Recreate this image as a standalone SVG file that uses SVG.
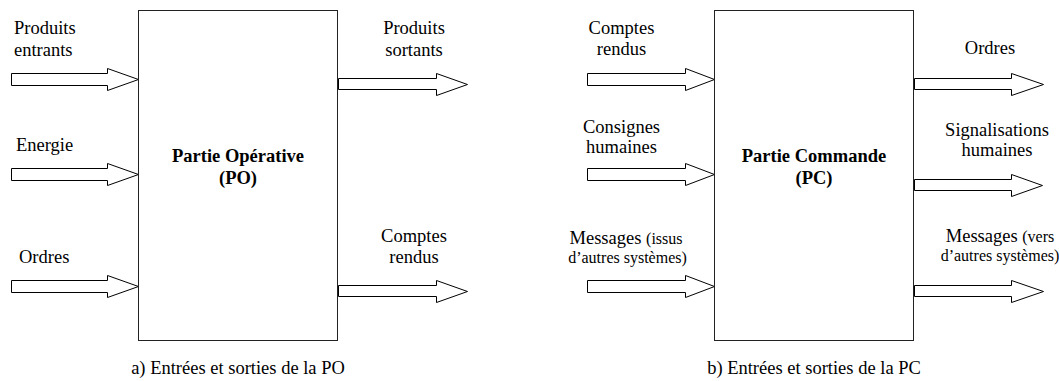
<svg xmlns="http://www.w3.org/2000/svg" width="1059" height="381" viewBox="0 0 1059 381">
<style>
.box{fill:#fff;stroke:#222;stroke-width:1}
.arrow{fill:#fff;stroke:#000;stroke-width:1;stroke-linejoin:miter}
.t{font-size:18.5px;fill:#000}
.m{text-anchor:middle}
.b{font-weight:bold}
.s{font-size:16px}
</style>
<rect width="1059" height="381" fill="#fff"/>

<g id="connectors">
  <polygon class="arrow" points="11.5,73.5 107.5,73.5 107.5,68.5 138.5,79.5 107.5,90.5 107.5,85.5 11.5,85.5"/>
  <polygon class="arrow" points="11.5,168.5 107.5,168.5 107.5,163.5 138.5,174.5 107.5,185.5 107.5,180.5 11.5,180.5"/>
  <polygon class="arrow" points="11.5,280.5 107.5,280.5 107.5,275.5 138.5,286.5 107.5,297.5 107.5,292.5 11.5,292.5"/>
  <polygon class="arrow" points="338.5,78.5 436.5,78.5 436.5,73.5 467.5,84.5 436.5,95.5 436.5,89.5 338.5,89.5"/>
  <polygon class="arrow" points="338.5,285.5 436.5,285.5 436.5,280.5 467.5,291.5 436.5,302.5 436.5,296.5 338.5,296.5"/>
  <polygon class="arrow" points="587.5,73.5 685.5,73.5 685.5,68.5 714.5,79.5 685.5,90.5 685.5,85.5 587.5,85.5"/>
  <polygon class="arrow" points="587.5,168.5 685.5,168.5 685.5,163.5 714.5,174.5 685.5,185.5 685.5,180.5 587.5,180.5"/>
  <polygon class="arrow" points="587.5,280.5 685.5,280.5 685.5,275.5 714.5,286.5 685.5,297.5 685.5,292.5 587.5,292.5"/>
  <polygon class="arrow" points="914.5,78.5 1011.5,78.5 1011.5,73.5 1043.5,84.5 1011.5,95.5 1011.5,89.5 914.5,89.5"/>
  <polygon class="arrow" points="914.5,179.5 1011.5,179.5 1011.5,174.5 1042.5,185.5 1011.5,196.5 1011.5,190.5 914.5,190.5"/>
  <polygon class="arrow" points="914.5,285.5 1011.5,285.5 1011.5,280.5 1043.5,291.5 1011.5,302.5 1011.5,296.5 914.5,296.5"/>
</g>

<g font-family="'Liberation Serif', 'DejaVu Serif', serif">
<g id="po">
  <rect class="box" x="138.5" y="10.5" width="199" height="330"/>
  <text class="t b m" x="238" y="162">Partie Opérative</text>
  <text class="t b m" x="238" y="184">(PO)</text>
</g>

<g id="pc">
  <rect class="box" x="714.5" y="10.5" width="199" height="330"/>
  <text class="t b m" x="814" y="162">Partie Commande</text>
  <text class="t b m" x="814" y="184">(PC)</text>
</g>

<g id="po-labels">
  <text class="t" x="14" y="34">Produits</text>
  <text class="t" x="14" y="55.5">entrants</text>
  <text class="t" x="16" y="150.5">Energie</text>
  <text class="t" x="19" y="263">Ordres</text>
  <text class="t m" x="414" y="34">Produits</text>
  <text class="t m" x="414" y="55.5">sortants</text>
  <text class="t m" x="414" y="242">Comptes</text>
  <text class="t m" x="414" y="263">rendus</text>
  <text class="t m" x="238" y="373.5">a) Entrées et sorties de la PO</text>
</g>

<g id="pc-labels">
  <text class="t m" x="621.5" y="33.5">Comptes</text>
  <text class="t m" x="621.5" y="54.5">rendus</text>
  <text class="t m" x="621.5" y="132.5">Consignes</text>
  <text class="t m" x="621.5" y="152.5">humaines</text>
  <text class="t m" x="626" y="244">Messages <tspan class="s">(issus</tspan></text>
  <text class="t s m" x="627.5" y="263">d’autres systèmes)</text>
  <text class="t m" x="990" y="54">Ordres</text>
  <text class="t m" x="997" y="136">Signalisations</text>
  <text class="t m" x="997" y="156">humaines</text>
  <text class="t m" x="1000" y="242">Messages <tspan class="s">(vers</tspan></text>
  <text class="t s m" x="1000" y="261">d’autres systèmes)</text>
  <text class="t m" x="814" y="373.5">b) Entrées et sorties de la PC</text>
</g>
</g>
</svg>
